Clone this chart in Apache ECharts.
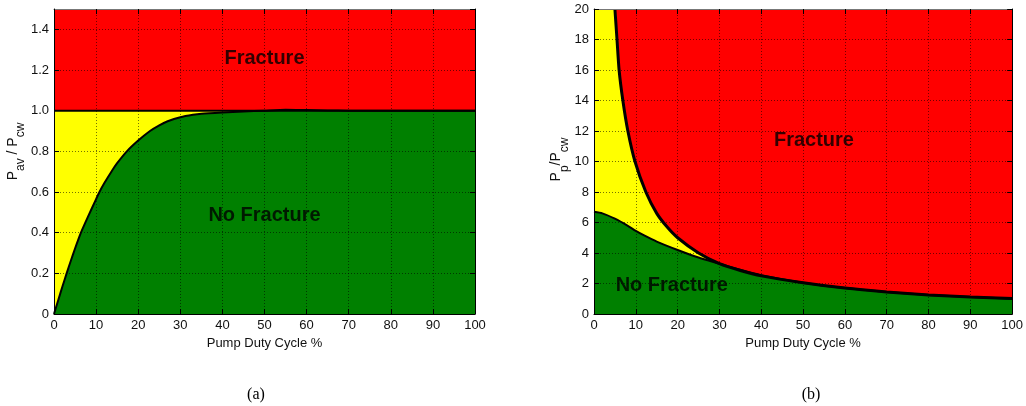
<!DOCTYPE html>
<html><head><meta charset="utf-8">
<script src="https://cdn.jsdelivr.net/npm/echarts@6/dist/echarts.min.js"></script>
<style>html,body{margin:0;padding:0;background:#fff}#c{width:1026px;height:406px}</style>
</head><body><div id="c"></div>
<script>
// (a) average pressure ratio boundary
const aX = [0,1,2,3,4,5,6.4,8,10,10.8,12,14,15,17.3,20,22.8,25,27,30,33,35,40,45,50,55,60,65,70,80,90,100];
const aY = [0.0,0.068,0.135,0.2,0.262,0.322,0.4,0.475,0.565,0.6,0.645,0.712,0.742,0.8,0.853,0.9,0.928,0.948,0.968,0.98,0.985,0.991,0.996,1.0,1.004,1.003,1.001,1.0,1.0,1.0,1.0];
const aLimitX = [0,100];
const aLimitY = [1,1];
// (b) peak pressure ratio boundaries
const bUpperX = [5,5.5,6,6.9,8.1,9.8,12.4,15,17.5,20,25,30,35,40,50,60,70,80,90,100];
const bUpperY = [20,18,16,14,12,10,8,6.6,5.7,5.0,4.0,3.3,2.85,2.5,2.05,1.7,1.45,1.25,1.12,1.02];
const bLowerX = [0,2,5,8,10,12,15,20,25,30,35,40,50,60,70,80,90,100];
const bLowerY = [6.7,6.6,6.25,5.8,5.45,5.15,4.75,4.2,3.7,3.3,2.9,2.55,2.05,1.7,1.45,1.25,1.12,1.0];
const bYellowTopX = [0].concat(bUpperX);
const bYellowTopY = [20].concat(bUpperY);
// annotations
const aTexts = [{x:50,y:1.255,t:'Fracture'},{x:50,y:0.485,t:'No Fracture'}];
const bTexts = [{x:52.6,y:11.4,t:'Fracture'},{x:18.6,y:1.84,t:'No Fracture'}];
const xTicks = {min:0,max:100,interval:10};
const captions = ['(a)','(b)'];

const zip = (xs, ys) => xs.map((x,i)=>[x, ys[i]]);
const FONT = 'Liberation Sans, Arial, Helvetica, sans-serif';
const RED='#ff0000', YEL='#ffff00', GRN='#008000';
const grid = (left,right)=>({left, right, top:9, bottom:92, show:true, backgroundColor:RED, borderWidth:0});
const split = {show:true, lineStyle:{color:'rgba(0,0,0,0.55)', type:[1,2], width:1}};
const mainX = (gi)=>({type:'value', gridIndex:gi, min:xTicks.min, max:xTicks.max, interval:xTicks.interval, z:10,
  axisLine:{show:true, onZero:false, lineStyle:{color:'#000', width:1}},
  axisTick:{show:true, inside:true, length:5, lineStyle:{color:'#000'}},
  axisLabel:{color:'#111', fontSize:13, fontFamily:FONT, margin:5},
  splitLine:split,
  name:'Pump Duty Cycle %', nameLocation:'middle', nameGap:17,
  nameTextStyle:{color:'#111', fontSize:13, fontFamily:FONT}});
const boxX = (gi)=>({type:'value', gridIndex:gi, position:'top', min:xTicks.min, max:xTicks.max, interval:xTicks.interval, z:10,
  axisLine:{show:true, onZero:false, lineStyle:{color:'#777', width:1}},
  axisTick:{show:true, inside:true, length:5, lineStyle:{color:'#000'}},
  axisLabel:{show:false}, splitLine:{show:false}});
const rich = {
  n:{fontSize:14, fontFamily:FONT, color:'#111', lineHeight:16, verticalAlign:'top'},
  s:{fontSize:12, fontFamily:FONT, color:'#111', lineHeight:12, padding:[9,0,0,0], verticalAlign:'top'}
};
const mainY = (gi,max,interval,fmt,name,gap,shift)=>({type:'value', gridIndex:gi, min:0, max, interval, z:10,
  axisLine:{show:true, onZero:false, lineStyle:{color:'#000', width:1}},
  axisTick:{show:true, inside:true, length:5, lineStyle:{color:'#000'}},
  axisLabel:{color:'#111', fontSize:13, fontFamily:FONT, margin:5, formatter:fmt, showMaxLabel: max%interval===0},
  splitLine:split,
  name, nameLocation:'middle', nameGap:gap,
  nameTextStyle:{rich, padding:[0,0,0,shift]}});
const boxY = (gi,max,interval)=>({type:'value', gridIndex:gi, position:'right', min:0, max, interval, z:10,
  axisLine:{show:true, onZero:false, lineStyle:{color:'#000', width:1}},
  axisTick:{show:true, inside:true, length:5, lineStyle:{color:'#000'}},
  axisLabel:{show:false}, splitLine:{show:false}});

const area = (name, xi, yi, data, color, z, lineW)=>({type:'line', name, xAxisIndex:xi, yAxisIndex:yi, data, z,
  showSymbol:false, symbol:'none', smooth:0.2, silent:true,
  lineStyle:{color:'#000', width:lineW}, areaStyle:color?{color, opacity:1}:undefined});
const txt = (xi, yi, items)=>({type:'scatter', xAxisIndex:xi, yAxisIndex:yi, symbolSize:0, z:8, silent:true,
  data: items.map(d=>({value:[d.x,d.y], label:{show:true, formatter:d.t}})),
  label:{show:true, position:'inside', color:'#000', fontSize:20, fontWeight:'bold', fontFamily:FONT}});

const chart = echarts.init(document.getElementById('c'), null, {renderer:'canvas'});
chart.setOption({
  animation:false,
  backgroundColor:'#fff',
  title:[
    {text:captions[0], left:251, top:382, textAlign:'center', textStyle:{fontFamily:'Liberation Serif, Times New Roman, serif', fontSize:16, fontWeight:'normal', color:'#000'}},
    {text:captions[1], left:806, top:382, textAlign:'center', textStyle:{fontFamily:'Liberation Serif, Times New Roman, serif', fontSize:16, fontWeight:'normal', color:'#000'}}
  ],
  grid:[grid(54,551), grid(594,12)],
  xAxis:[mainX(0), boxX(0), mainX(1), boxX(1)],
  yAxis:[
    mainY(0,1.5,0.2,v=>v===0?'0':v.toFixed(1),'{n|P}{s|av}{n| / P}{s|cw}',29,20),
    boxY(0,1.5,0.2),
    mainY(1,20,2,v=>String(v),'{n|P}{s|p}{n|/P}{s|cw}',22,4),
    boxY(1,20,2)
  ],
  series:[
    area('aYellow',0,0,zip(aLimitX,aLimitY),YEL,2,0),
    area('aGreen',0,0,zip(aX,aY),GRN,3,2),
    Object.assign(area('aLimit',0,0,zip(aLimitX,aLimitY),null,4,2),{smooth:false}),
    txt(0,0,aTexts),
    area('bYellow',2,2,zip(bYellowTopX,bYellowTopY),YEL,2,0),
    area('bGreen',2,2,zip(bLowerX,bLowerY),GRN,3,2),
    area('bUpper',2,2,zip(bUpperX,bUpperY),null,4,3),
    txt(2,2,bTexts)
  ]
});
</script></body></html>
